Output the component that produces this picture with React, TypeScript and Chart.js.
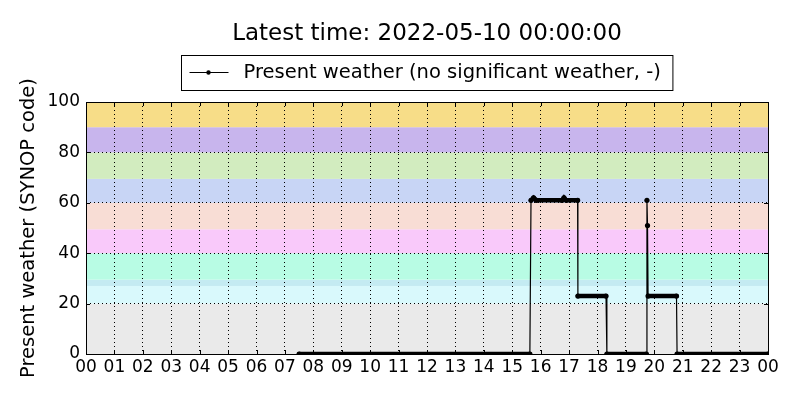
import React, { useEffect, useRef } from 'react';
import { Chart, registerables } from 'chart.js';

Chart.register(...registerables);

// observation times (hours of the day) and SYNOP present-weather codes
const hours = [7.5, 15.62, 15.66, 15.75, 15.85, 16.75, 16.82, 16.9, 17.3, 17.31, 18.3, 18.33, 19.72, 19.74, 19.76, 19.78, 20.78, 20.8, 24];
const codes = [0, 0, 61, 62, 61, 61, 62, 61, 61, 23, 23, 0, 0, 61, 51, 23, 23, 0, 0];

// background bands of the SYNOP code groups
const bandLow = [0, 20, 27, 29.5, 40, 49.5, 60, 69.5, 80, 90];
const bandHigh = [20, 27, 29.5, 40, 49.5, 60, 69.5, 80, 90, 100];
const bandColors = ['#eaeaea', '#d9f9fc', '#c4ebf2', '#b8fce4', '#f9c9fa', '#f8ddd5', '#c8d5f5', '#d2ecbf', '#c8b5ed', '#f7dd88'];

const hourTicks = Array.from({ length: 25 }, (_, i) => i);
const codeTicks = [0, 20, 40, 60, 80, 100];

const titleText = 'Latest time: 2022-05-10 00:00:00';
const legendText = 'Present weather (no significant weather, -)';
const yTitle = 'Present weather (SYNOP code)';

const FONT = '"DejaVu Sans", sans-serif';

const bandsPlugin = {
  id: 'bands',
  beforeDraw(chart: any) {
    const { ctx, chartArea, scales } = chart;
    ctx.save();
    bandLow.forEach((lo, i) => {
      const yTop = scales.y.getPixelForValue(bandHigh[i]);
      const yBot = scales.y.getPixelForValue(lo);
      ctx.fillStyle = bandColors[i];
      ctx.fillRect(chartArea.left, yTop, chartArea.right - chartArea.left, yBot - yTop);
    });
    ctx.restore();
  },
  afterDatasetsDraw(chart: any) {
    const { ctx, chartArea: a, scales } = chart;
    ctx.save();
    ctx.strokeStyle = '#000';
    ctx.lineWidth = 1;
    ctx.beginPath();
    hourTicks.forEach(h => {
      const x = Math.round(scales.x.getPixelForValue(h)) + 0.5;
      ctx.moveTo(x, a.bottom); ctx.lineTo(x, a.bottom - 4);
      ctx.moveTo(x, a.top); ctx.lineTo(x, a.top + 4);
    });
    codeTicks.forEach(v => {
      const y = Math.round(scales.y.getPixelForValue(v)) + 0.5;
      ctx.moveTo(a.left, y); ctx.lineTo(a.left + 4, y);
      ctx.moveTo(a.right, y); ctx.lineTo(a.right - 4, y);
    });
    ctx.stroke();
    ctx.strokeRect(Math.round(a.left) + 0.5, Math.round(a.top) + 0.5, Math.round(a.right - a.left), Math.round(a.bottom - a.top));

    // title
    const cx = (a.left + a.right) / 2;
    ctx.fillStyle = '#000';
    ctx.textAlign = 'center';
    ctx.textBaseline = 'middle';
    ctx.font = `23px ${FONT}`;
    ctx.fillText(titleText, cx, 34);

    // legend box
    ctx.font = `19.5px ${FONT}`;
    const tw = ctx.measureText(legendText).width;
    const boxW = 62 + tw + 12;
    const bx = Math.round(cx - boxW / 2) + 0.5;
    const by = 55.5;
    ctx.fillStyle = '#fff';
    ctx.fillRect(bx, by, boxW, 35);
    ctx.strokeRect(bx, by, boxW, 35);
    ctx.beginPath();
    ctx.moveTo(bx + 8, 72.5);
    ctx.lineTo(bx + 47, 72.5);
    ctx.stroke();
    ctx.fillStyle = '#000';
    ctx.beginPath();
    ctx.arc(bx + 27, 72.5, 2.2, 0, Math.PI * 2);
    ctx.fill();
    ctx.textAlign = 'left';
    ctx.fillText(legendText, bx + 62, 73);
    ctx.restore();
  },
};

export default function App() {
  const canvasRef = useRef<HTMLCanvasElement>(null);
  const chartRef = useRef<Chart | null>(null);

  useEffect(() => {
    if (!canvasRef.current) return;
    if (chartRef.current) chartRef.current.destroy();

    chartRef.current = new Chart(canvasRef.current, {
      type: 'line',
      data: {
        datasets: [
          {
            label: legendText,
            data: hours.map((h, i) => ({ x: h, y: codes[i] })),
            borderColor: '#000',
            backgroundColor: '#000',
            borderWidth: 1.2,
            borderCapStyle: 'round',
            pointRadius: 2.6,
            pointBorderWidth: 0,
            pointBackgroundColor: '#000',
            clip: 0,
            segment: {
              borderWidth: (ctx: any) => (Math.abs(ctx.p0.parsed.y - ctx.p1.parsed.y) < 2 ? 4.5 : 1.2),
            },
          } as any,
        ],
      },
      options: {
        animation: false,
        responsive: true,
        maintainAspectRatio: false,
        layout: { padding: { top: 102, right: 32, left: 0, bottom: 0 } },
        plugins: {
          legend: { display: false },
          title: { display: false },
          tooltip: { enabled: false },
        },
        scales: {
          x: {
            type: 'linear',
            min: 0,
            max: 24,
            afterFit: (s: any) => { s.height = 46; },
            afterBuildTicks: (s: any) => { s.ticks = hourTicks.map(v => ({ value: v })); },
            ticks: {
              color: '#000',
              font: { family: FONT, size: 17 },
              padding: 3,
              maxRotation: 0,
              autoSkip: false,
              callback: (v: any) => String(Number(v) % 24).padStart(2, '0'),
            },
            grid: { color: '#000', drawTicks: false, lineWidth: 1 },
            border: { display: false, dash: [1, 3] },
          },
          y: {
            min: 0,
            max: 100,
            afterFit: (s: any) => { s.width = 86; },
            afterBuildTicks: (s: any) => { s.ticks = codeTicks.map(v => ({ value: v })); },
            ticks: {
              color: '#000',
              font: { family: FONT, size: 17 },
              padding: 6,
            },
            grid: { color: '#000', drawTicks: false, lineWidth: 1 },
            border: { display: false, dash: [1, 3] },
            title: {
              display: true,
              text: yTitle,
              color: '#000',
              font: { family: FONT, size: 19.5 },
              padding: { top: 17, bottom: 0 },
            },
          },
        },
      },
      plugins: [bandsPlugin],
    });

    return () => {
      if (chartRef.current) {
        chartRef.current.destroy();
        chartRef.current = null;
      }
    };
  }, []);

  return (
    <div style={{ position: 'fixed', left: 0, top: 0, width: '800px', height: '400px', background: '#fff' }}>
      <canvas ref={canvasRef}></canvas>
    </div>
  );
}
